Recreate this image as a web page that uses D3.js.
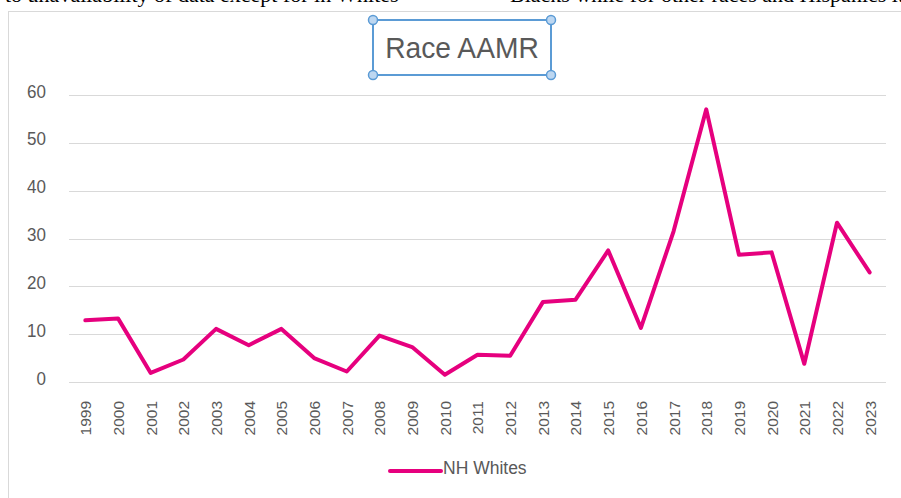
<!DOCTYPE html>
<html lang="en">
<head>
    <meta charset="UTF-8">
    <title>Race AAMR</title>
    <script src="https://d3js.org/d3.v7.min.js"></script>
    <style>
        body { margin: 0; background: #fff; }
        svg { display: block; }
        .lbl { font-family: "Liberation Sans", Arial, sans-serif; }
    </style>
</head>
<body>
    <div id="chart"></div>

    <script>
        const years = ["1999","2000","2001","2002","2003","2004","2005","2006","2007","2008",
                       "2009","2010","2011","2012","2013","2014","2015","2016","2017","2018",
                       "2019","2020","2021","2022","2023"];
        const nhWhites = [12.9, 13.3, 1.9, 4.7, 11.1, 7.7, 11.1, 5.0, 2.2, 9.7,
                          7.3, 1.5, 5.7, 5.5, 16.7, 17.2, 27.5, 11.3, 31.5, 57.0,
                          26.6, 27.1, 3.8, 33.3, 22.9];
        const yTicks = [0, 10, 20, 30, 40, 50, 60];
        const seriesName = "NH Whites";
        const title = "Race AAMR";

        const W = 901, H = 498;
        const plot = {left: 69, right: 886, top: 95, bottom: 382};
        const pink = "#e6007e";
        const grey = "#595959";

        const svg = d3.select("#chart").append("svg")
            .attr("width", W)
            .attr("height", H);

        // document text above the chart, cut off by the window edge
        const serif = "'Liberation Serif', 'Times New Roman', serif";
        svg.append("text")
            .attr("x", 5).attr("y", 2)
            .style("font-family", serif)
            .style("font-size", "22px")
            .attr("fill", "#000")
            .text("to unavailability of data except for in Whites");
        svg.append("text")
            .attr("x", 510).attr("y", 2)
            .style("font-family", serif)
            .style("font-size", "22px")
            .attr("fill", "#000")
            .text("Blacks while for other races and Hispanics it");

        // chart frame
        svg.append("rect")
            .attr("x", 8.5).attr("y", 11.5)
            .attr("width", W + 10).attr("height", H + 10)
            .attr("fill", "#fff")
            .attr("stroke", "#d9d9d9");

        const x = d3.scalePoint()
            .domain(years)
            .range([plot.left, plot.right])
            .padding(0.5);

        const y = d3.scaleLinear()
            .domain([0, 60])
            .range([plot.bottom, plot.top]);

        // gridlines
        svg.append("g")
            .selectAll("line")
            .data(yTicks)
            .join("line")
            .attr("x1", plot.left).attr("x2", plot.right)
            .attr("y1", d => Math.round(y(d)) + 0.5)
            .attr("y2", d => Math.round(y(d)) + 0.5)
            .attr("stroke", "#d9d9d9")
            .attr("stroke-width", 1);

        // y axis labels
        const yAxis = svg.append("g")
            .attr("transform", `translate(${plot.left - 23},0)`)
            .call(d3.axisLeft(y).tickValues(yTicks).tickSize(0).tickPadding(0));
        yAxis.select(".domain").remove();
        yAxis.selectAll("text")
            .attr("class", "lbl")
            .style("font-size", "17px")
            .attr("dy", "0.25em")
            .attr("transform", "scale(1,1.08)")
            .attr("fill", grey);
        yAxis.selectAll(".tick")
            .attr("transform", d => `translate(0,${y(d) - 2})`);

        // x axis labels (rotated)
        const xAxis = svg.append("g")
            .attr("transform", `translate(0,${plot.bottom})`)
            .call(d3.axisBottom(x).tickSize(0).tickPadding(0));
        xAxis.select(".domain").remove();
        xAxis.selectAll("text")
            .attr("class", "lbl")
            .style("font-size", "15.5px")
            .attr("fill", grey)
            .attr("transform", "rotate(-90)")
            .attr("text-anchor", "end")
            .attr("x", -19)
            .attr("y", 0)
            .attr("dy", "0.35em");

        // series line
        const line = d3.line()
            .x((d, i) => x(years[i]))
            .y(d => y(d));

        svg.append("path")
            .datum(nhWhites)
            .attr("fill", "none")
            .attr("stroke", pink)
            .attr("stroke-width", 4)
            .attr("stroke-linejoin", "round")
            .attr("stroke-linecap", "round")
            .attr("d", line);

        // title with selection box
        const tb = {x: 373, y: 20, w: 178, h: 55};
        svg.append("rect")
            .attr("x", tb.x).attr("y", tb.y)
            .attr("width", tb.w).attr("height", tb.h)
            .attr("fill", "none")
            .attr("stroke", "#5b9bd5")
            .attr("stroke-width", 2);
        svg.append("text")
            .attr("class", "lbl")
            .attr("text-anchor", "middle")
            .attr("transform", `translate(${tb.x + tb.w / 2},58) scale(0.94,1)`)
            .style("font-size", "30px")
            .attr("fill", grey)
            .text(title);
        const corners = [[tb.x, tb.y], [tb.x + tb.w, tb.y], [tb.x, tb.y + tb.h], [tb.x + tb.w, tb.y + tb.h]];
        svg.append("g")
            .selectAll("circle")
            .data(corners)
            .join("circle")
            .attr("cx", d => d[0]).attr("cy", d => d[1])
            .attr("r", 4.5)
            .attr("fill", "#bdd7f1")
            .attr("stroke", "#5b9bd5")
            .attr("stroke-width", 1.5);

        // legend
        svg.append("line")
            .attr("x1", 390).attr("x2", 441)
            .attr("y1", 471).attr("y2", 471)
            .attr("stroke", pink)
            .attr("stroke-width", 4)
            .attr("stroke-linecap", "round");
        svg.append("text")
            .attr("class", "lbl")
            .attr("x", 443).attr("y", 474)
            .style("font-size", "17.5px")
            .attr("fill", grey)
            .text(seriesName);
    </script>
</body>
</html>
